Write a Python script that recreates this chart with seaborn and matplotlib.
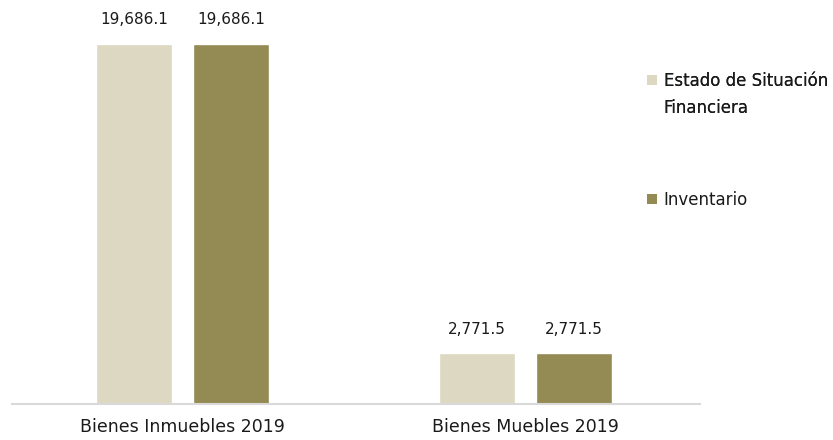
import matplotlib
matplotlib.use("Agg")
import matplotlib.pyplot as plt
import seaborn as sns
import pandas as pd
from matplotlib.patches import Patch

categories = ["Bienes Inmuebles 2019", "Bienes Muebles 2019"]
series_names = ["Estado de Situación Financiera", "Inventario"]
estado_values = [19686.1, 2771.5]
inventario_values = [19686.1, 2771.5]
colors = ["#DDD8C2", "#948A54"]

df = pd.DataFrame({
    "cat": categories * 2,
    "serie": [series_names[0]] * 2 + [series_names[1]] * 2,
    "valor": estado_values + inventario_values,
})

sns.set_theme(style="white")
FONT = ["DejaVu Sans"]
plt.rcParams["font.family"] = FONT

fig = plt.figure(figsize=(8.33, 4.4), dpi=100)
ax = fig.add_axes([12 / 833, 36 / 440, 688 / 833, 394 / 440])

sns.barplot(data=df, x="cat", y="valor", hue="serie", palette=colors,
            width=0.568, gap=0.22, ax=ax, legend=False, saturation=1)

for cont in ax.containers:
    ax.bar_label(cont, labels=[f"{v:,.1f}" for v in cont.datavalues],
                 padding=12, fontsize=11, color="#1a1a1a")

ax.set_xlim(-0.498, 1.51)
ax.set_ylim(0, 21545)
ax.set_xlabel("")
ax.set_ylabel("")
ax.set_yticks([])
for s in ["top", "right", "left"]:
    ax.spines[s].set_visible(False)
ax.spines["bottom"].set_color("#D9D9D9")
ax.spines["bottom"].set_linewidth(1.5)
ax.tick_params(axis="x", length=0, labelsize=12.5, pad=10, labelcolor="#1a1a1a")

invisible = Patch(facecolor="none", edgecolor="none")
leg_kw = dict(loc="upper left", frameon=False, fontsize=12,
              handlelength=0.6, handleheight=0.6, handletextpad=0.4,
              labelcolor="#1a1a1a")
leg1 = fig.legend([Patch(facecolor=colors[0], edgecolor="none"), invisible],
                  ["Estado de Situación", "Financiera"],
                  bbox_to_anchor=(632 / 833, 1 - 57 / 440),
                  labelspacing=0.55, **leg_kw)
fig.add_artist(leg1)
fig.legend([Patch(facecolor=colors[1], edgecolor="none")], ["Inventario"],
           bbox_to_anchor=(632 / 833, 1 - 176 / 440), **leg_kw)

fig.savefig("out.png", dpi=100)
